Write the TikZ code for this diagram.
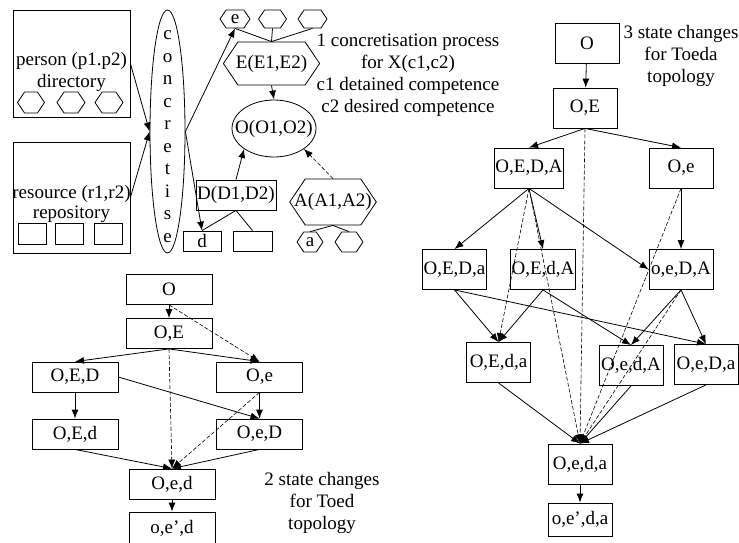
\documentclass[tikz,border=0pt]{standalone}
\usepackage{fontspec}
\setmainfont{Liberation Serif}
\usetikzlibrary{shapes.geometric,shapes.symbols,arrows.meta}

\tikzset{
	box/.style={draw, line width=0.8pt, inner sep=1pt},
	state/.style={box, minimum width=64pt, minimum height=40pt},
	lstate/.style={box, minimum width=86pt, minimum height=30pt},
	hexa/.style={draw, line width=0.8pt, signal, signal to=east and west,
		signal pointer angle=112, inner sep=0pt},
	smallbox/.style={box, minimum width=28pt, minimum height=21pt},
	arr/.style={-{Latex[length=9pt,width=7pt]}, line width=0.8pt},
	darr/.style={-{Latex[length=9pt,width=7pt]}, line width=0.6pt, dash pattern=on 4pt off 2pt},
	line/.style={line width=0.8pt}
}

\begin{document}
\begin{tikzpicture}[x=1pt, y=-1pt, font=\fontsize{19}{22}\selectfont]
			%\draw[help lines] (0,0) grid (739,542);
			\useasboundingbox (0,0) rectangle (739,542);
			
			% concretisation
			\node[box, minimum width=117pt, minimum height=107pt] (pers) at (71.5,63.5) {};
			\node[align=center] (perstxt) at (71.5,72) {person (p1.p2)\\directory};
			\node[hexa, minimum width=27pt, minimum height=21pt] (ph1) at (31,102.5) {};
			\node[hexa, minimum width=28pt, minimum height=21pt] (ph2) at (71,102.5) {};
			\node[hexa, minimum width=28pt, minimum height=21pt] (ph3) at (109,102.5) {};
			
			\node[box, minimum width=117pt, minimum height=111pt] (res) at (71.5,197.5) {};
			\node[align=center] (restxt) at (71.5,204) {resource (r1,r2)\\[-2pt]repository};
			\node[smallbox] (rb1) at (32.5,233.5) {};
			\node[smallbox] (rb2) at (69.5,233.5) {};
			\node[smallbox] (rb3) at (108.5,233.5) {};
			
			\node[draw, line width=0.8pt, ellipse, minimum width=35pt, minimum height=243pt, inner sep=0pt,
				label={[align=center, yshift=-5pt]center:c\\[0.5pt]o\\[0.5pt]n\\[0.5pt]c\\[0.5pt]r\\[0.5pt]e\\[0.5pt]t\\[0.5pt]i\\[0.5pt]s\\[0.5pt]e}]
				(conc) at (167.5,131.5) {};
			
			\node[hexa, minimum width=30pt, minimum height=18pt] (e) at (235,19) {e};
			\node[hexa, minimum width=28pt, minimum height=18pt] (e2) at (272.5,19) {};
			\node[hexa, minimum width=29pt, minimum height=18pt] (e3) at (312.5,19) {};
			\node[hexa, minimum width=90pt, minimum height=43pt, inner xsep=-2pt] (E) at (271.5,63.5) {E(E1,E2)};
			\node[draw, line width=0.8pt, ellipse, minimum width=84pt, minimum height=57pt,
				label={center:O(O1,O2)}] (Oel) at (274,128.5) {};
			\node[box, minimum width=80pt, minimum height=30pt] (D) at (236,195) {D(D1,D2)};
			\node[box, minimum width=38pt, minimum height=20pt, inner sep=0pt] (d) at (202,241) {d};
			\node[box, minimum width=39pt, minimum height=20pt] (d2) at (252.5,241) {};
			\node[hexa, minimum width=86pt, minimum height=46pt, inner xsep=-11pt] (A) at (333,202) {A(A1,A2)};
			\node[hexa, minimum width=26pt, minimum height=20pt] (a) at (310,242) {a};
			\node[hexa, minimum width=28pt, minimum height=20pt] (a2) at (349,242) {};
			
			\node[align=center] (txt1) at (408,75) {1 concretisation process\\for X(c1,c2)\\c1 detained competence\\c2 desired competence};
			
			\draw[arr] (pers.east) -- (conc.west);
			\draw[arr] (res.east) -- (conc.west);
			\draw[arr] (conc.east) -- (e.south);
			\draw[arr] (conc.east) -- (d.north);
			\draw[line] (e.south) -- (E.north);
			\draw[line] (e2.south) -- (E.north);
			\draw[line] (e3.south) -- (E.north);
			\draw[arr] (E.south) -- (Oel.north);
			\draw[arr] (D.north) -- (Oel.south west);
			\draw[darr] (A.north) -- (Oel.south east);
			\draw[line] (D.south) -- (d.north);
			\draw[line] (D.south) -- (d2.north);
			\draw[line] (A.south) -- (a.north);
			\draw[line] (A.south) -- (a2.north);
			
			% Toed
			\node[lstate] (l0) at (169,289.5) {O};
			\node[lstate] (l1) at (169,333.5) {O,E};
			\node[lstate] (l2) at (75,377) {O,E,D};
			\node[lstate] (l3) at (259.5,377) {O,e};
			\node[lstate] (l4) at (75,434) {O,E,d};
			\node[lstate] (l5) at (259.5,434) {O,e,D};
			\node[lstate] (l6) at (172,484) {O,e,d};
			\node[lstate, minimum height=32pt] (l7) at (172,528) {o,e',d};
			\node[align=center] (txt2) at (322,503) {2 state changes\\for Toed\\topology};
			
			\draw[arr] (l0) -- (l1);
			\draw[darr] (l0.south) -- (l3.north);
			\draw[arr] (l1.south) -- (l2.north);
			\draw[arr] (l1.south) -- (l3.north);
			\draw[darr] (l1.south) -- (l6.north);
			\draw[arr] (l2) -- (l4);
			\draw[arr] (l2.east) -- (l5.north);
			\draw[arr] (l3) -- (l5);
			\draw[darr] (l3.south) -- (l6.north);
			\draw[arr] (l4.south) -- (l6.north);
			\draw[arr] (l5.south) -- (l6.north);
			\draw[arr] (l6) -- (l7);
			
			% Toeda
			\node[state] (r0) at (587,43) {O};
			\node[state] (r1) at (585,108) {O,E};
			\node[state] (r2) at (529,168) {O,E,D,A};
			\node[state] (r3) at (681,168) {O,e};
			\node[state] (r4) at (454.5,269.5) {O,E,D,a};
			\node[state] (r5) at (543,269.5) {O,E,d,A};
			\node[state] (r6) at (681,269.5) {o,e,D,A};
			\node[state] (r7) at (498.5,362.5) {O,E,d,a};
			\node[state] (r8) at (631,365.5) {O,e,d,A};
			\node[state] (r9) at (706,364.5) {O,e,D,a};
			\node[state] (r10) at (580,464) {O,e,d,a};
			\node[state, minimum height=33pt] (r11) at (580,519.5) {o,e',d,a};
			\node[align=center] (txt3) at (681,56) {3 state changes\\for Toeda\\topology};
			
			\draw[arr] (r0) -- (r1);
			\draw[arr] (r1.south) -- (r2.north);
			\draw[arr] (r1.south) -- (r3.north);
			\draw[arr] (r2.south) -- (r4.north);
			\draw[arr] (r2.south) -- (r5.north);
			\draw[arr] (r2.south) -- (r6.west);
			\draw[arr] (r3) -- (r6);
			\draw[darr] (r2.south) -- (r7.north);
			\draw[darr] (r2.south) -- (r10.north);
			\draw[darr] (r1.south) -- (r10.north);
			\draw[darr] (r3.south) -- (r10.north);
			\draw[darr] (r6.south) -- (r10.north);
			\draw[arr] (r4.south) -- (r7.north);
			\draw[arr] (r4.south) -- (r9.north);
			\draw[arr] (r5.south) -- (r7.north);
			\draw[arr] (r5.south) -- (r8.north);
			\draw[arr] (r6.south) -- (r8.north);
			\draw[arr] (r6.south) -- (r9.north);
			\draw[arr] (r7.south) -- (r10.north);
			\draw[arr] (r8.south) -- (r10.north);
			\draw[arr] (r9.south) -- (r10.north);
			\draw[arr] (r10) -- (r11);
			
\end{tikzpicture}
\end{document}
